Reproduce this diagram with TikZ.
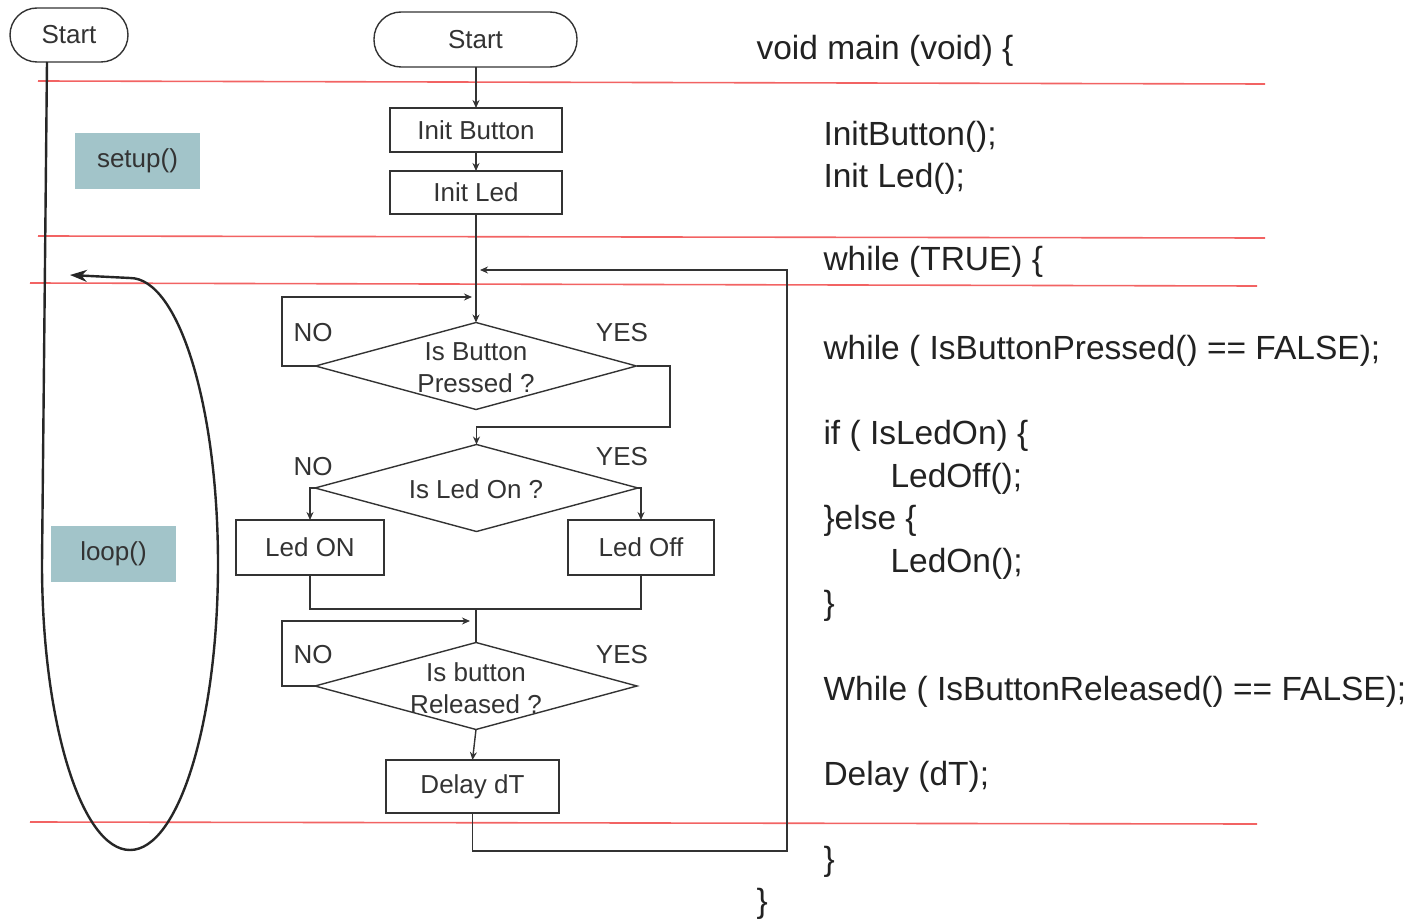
\documentclass[tikz,border=0pt]{standalone}
\usepackage{fontspec}
\setmainfont{Liberation Sans}
\usetikzlibrary{shapes.geometric,arrows.meta,calc}
\definecolor{boxfill}{HTML}{A2C4C9}
\definecolor{ink}{HTML}{333333}
\definecolor{codeink}{HTML}{222222}
\definecolor{redline}{HTML}{F04848}
\begin{document}
\begin{tikzpicture}[x=1pt,y=-1pt,
  every node/.style={text=ink, font=\fontsize{26}{32}\selectfont},
  box/.style={draw=ink, line width=1.4pt, inner sep=0pt, outer sep=0pt, align=center},
  dia/.style={draw=ink, line width=1.4pt, diamond, inner sep=0pt, outer sep=0pt, minimum width=321pt, minimum height=87pt},
  con/.style={draw=ink, line width=1.4pt},
  arr/.style={con, -{Stealth[length=8pt,width=7pt]}},
  bigloop/.style={draw=black!85, line width=2.4pt, -{Stealth[length=17pt,width=12pt]}},
  tag/.style={fill=boxfill, inner sep=0pt, minimum width=125pt, minimum height=56pt},
  lbl/.style={align=center},
  code/.style={anchor=base west, text=codeink, font=\fontsize{33.5}{40}\selectfont},
  sepline/.style={draw=redline, line width=1.6pt, opacity=0.85}
]
\useasboundingbox (0,0) rectangle (1409,920);

% separator lines
\draw[sepline] (38,81) -- (1265,84);
\draw[sepline] (38,236) -- (1265,238);
\draw[sepline] (30,283) -- (1257,286);
\draw[sepline] (30,822) -- (1257,824);

% left overview
\node[box, rounded corners=27pt, minimum width=118pt, minimum height=54pt] (s1) at (69,35) {Start};
\node[tag] (su) at (137.5,161) {setup()};
\node[tag] (lp) at (113.5,553.5) {loop()};
\coordinate (loopend) at (70,275);
\draw[bigloop] ([xshift=-22pt]s1.south) -- (42,564)
  arc[start angle=180, end angle=-90, x radius=88, y radius=286] -- (loopend);

% flowchart
\node[box, rounded corners=27pt, minimum width=203pt, minimum height=55pt] (s2) at (475.5,39.5) {Start};
\node[box, minimum width=172pt, minimum height=44pt] (ib) at (476,130) {Init Button};
\node[box, minimum width=172pt, minimum height=43pt] (il) at (476,192.5) {Init Led};
\node[dia] (d1) at (476,366) {};
\node[lbl] (t1) at (476,368) {Is Button\\Pressed ?};
\node[dia, minimum width=323pt] (d2) at (476.5,488) {};
\node[lbl] (t2) at (476,489) {Is Led On ?};
\node[box, minimum width=148pt, minimum height=55pt] (lon) at (310,547.5) {Led ON};
\node[box, minimum width=146pt, minimum height=55pt] (loff) at (641,547.5) {Led Off};
\node[dia, minimum width=322pt] (d3) at (476,686) {};
\node[lbl] (t3) at (476,688) {Is button\\Released ?};
\node[box, minimum width=173pt, minimum height=53pt] (dl) at (472.5,786.5) {Delay dT};

\node (no1) at (313,333) {NO};
\node (yes1) at (622,333) {YES};
\node (no2) at (313,467) {NO};
\node (yes2) at (622,457) {YES};
\node (no3) at (313,655) {NO};
\node (yes3) at (622,655) {YES};

\coordinate (n1) at (472,297);
\coordinate (n3) at (470,621);
\coordinate (m) at (476,609);
\coordinate (rt) at (480,270);

\draw[arr] (s2.south -| ib.north) -- (ib.north);
\draw[arr] (ib.south) -- (il.north);
\draw[arr] (il.south) -- (d1.north);
\draw[arr] (dl.south) -- (472.5,851) -- (787,851) -- (787,270) -- (rt);
\draw[arr] (d1.west) -- (282,366) |- (n1);
\draw[arr] (d1.east) -- (670,366) -- (670,427) -- (d2.north |- 0,427) -- (d2.north);
\draw[arr] (d2.west) -| (lon.north);
\draw[arr] (d2.east) -| (loff.north);
\draw[con] (lon.south) |- (m) -| (loff.south);
\draw[con] (m) -- (d3.north);
\draw[arr] (d3.west) -- (282,686) |- (n3);
\draw[arr] (d3.south) -- (dl.north);

% code
\node[code] (c1) at (753,60) {void main (void) \{};
\node[code] (c2) at (820,146) {InitButton();};
\node[code] (c3) at (820,188) {Init Led();};
\node[code] (c4) at (820,271) {while (TRUE) \{};
\node[code] (c5) at (820,359) {while ( IsButtonPressed() == FALSE);};
\node[code] (c6) at (820,444) {if ( IsLedOn) \{};
\node[code] (c7) at (887,487) {LedOff();};
\node[code] (c8) at (820,529) {\}else \{};
\node[code] (c9) at (887,572) {LedOn();};
\node[code] (c10) at (820,614) {\}};
\node[code] (c11) at (820,700) {While ( IsButtonReleased() == FALSE);};
\node[code] (c12) at (820,785) {Delay (dT);};
\node[code] (c13) at (820,870) {\}};
\node[code] (c14) at (753,912) {\}};
\end{tikzpicture}
\end{document}
